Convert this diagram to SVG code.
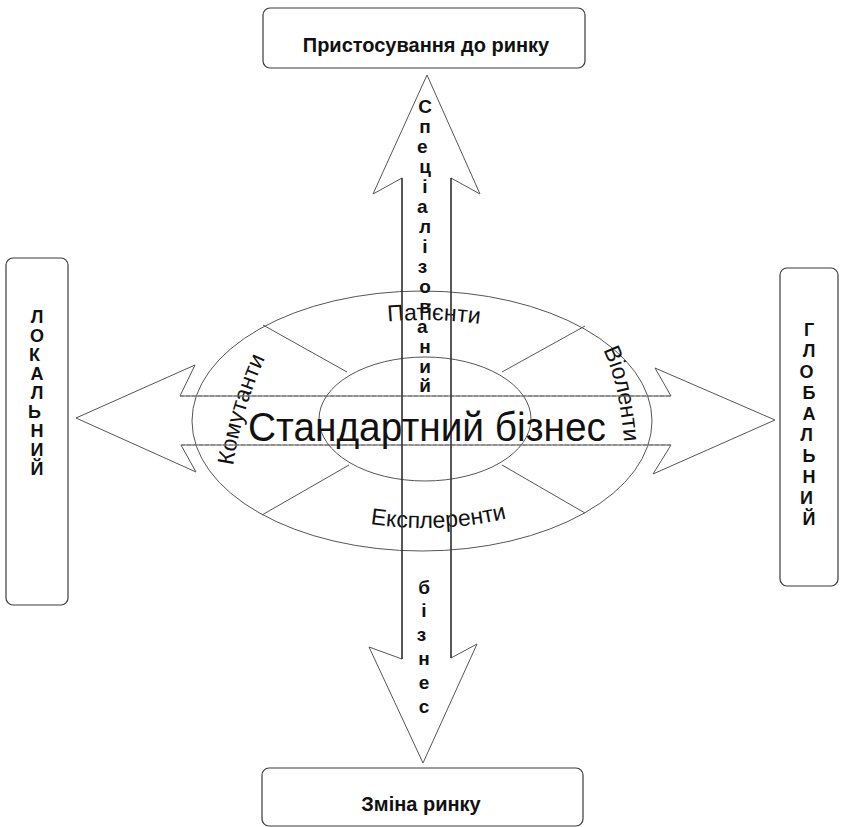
<svg xmlns="http://www.w3.org/2000/svg" width="845" height="827" viewBox="0 0 845 827">
  <style>
    .box{fill:none;stroke:#3a3a3a;stroke-width:1.2}
    .ring{fill:none;stroke:#555;stroke-width:1}
    .spoke{fill:none;stroke:#555;stroke-width:1}
    .arrow{fill:none;stroke:#555;stroke-width:1}
    .shaft-v{stroke:#222;stroke-width:1.2}
    .shaft-h{stroke:#777;stroke-width:1;stroke-dasharray:4 2}
    .lbl{font-family:"Liberation Sans",Arial,sans-serif;font-weight:bold;fill:#111;text-anchor:middle}
    .arc{font-family:"Liberation Sans",Arial,sans-serif;font-size:23px;fill:#111}
  </style>
  <defs>
    <path id="arcTop" d="M 224,420 A 200,100 0 0 1 624,420"/>
    <path id="arcBottom" d="M 224,420 A 200,108 0 0 0 624,420"/>
    <path id="arcRight" d="M 603,350 Q 624,392 626,478"/>
    <path id="arcLeft" d="M 230,490 Q 238,408 276,336"/>
  </defs>
  <rect width="845" height="827" fill="#fff"/>

  <!-- boxes at the ends of the axes -->
  <g id="market-adaptation">
    <rect class="box" x="263" y="8" width="322" height="60" rx="7"/>
    <text class="lbl" x="426" y="52" font-size="20">Пристосування до ринку</text>
  </g>
  <g id="market-change">
    <rect class="box" x="262" y="768" width="321" height="58" rx="7"/>
    <text class="lbl" x="421" y="811" font-size="20">Зміна ринку</text>
  </g>
  <g id="local">
    <rect class="box" x="6" y="258" width="62" height="347" rx="7"/>
    <text class="lbl" font-size="18">
      <tspan x="37" y="323">Л</tspan><tspan x="37" y="342">О</tspan><tspan x="37" y="361">К</tspan>
      <tspan x="37" y="380">А</tspan><tspan x="37" y="399">Л</tspan><tspan x="37" y="418">Ь</tspan>
      <tspan x="37" y="437">Н</tspan><tspan x="37" y="456">И</tspan><tspan x="37" y="475">Й</tspan>
    </text>
  </g>
  <g id="global">
    <rect class="box" x="780" y="268" width="58" height="318" rx="7"/>
    <text class="lbl" font-size="18">
      <tspan x="809" y="336">Г</tspan><tspan x="809" y="357">Л</tspan><tspan x="809" y="378">О</tspan>
      <tspan x="809" y="399">Б</tspan><tspan x="809" y="420">А</tspan><tspan x="809" y="441">Л</tspan>
      <tspan x="809" y="462">Ь</tspan><tspan x="809" y="483">Н</tspan><tspan x="809" y="504">И</tspan>
      <tspan x="809" y="525">Й</tspan>
    </text>
  </g>

  <!-- central ellipse with four strategy sectors -->
  <g id="business-types">
    <ellipse class="ring" cx="422" cy="421" rx="230" ry="130"/>
    <ellipse class="ring" cx="425" cy="419" rx="106" ry="62"/>
    <line class="spoke" x1="263" y1="325" x2="347" y2="372"/>
    <line class="spoke" x1="262" y1="515" x2="349" y2="465"/>
    <line class="spoke" x1="502" y1="372" x2="585" y2="326"/>
    <line class="spoke" x1="502" y1="465" x2="585" y2="513"/>
    <text class="arc"><textPath href="#arcTop" startOffset="52%" text-anchor="middle">Патієнти</textPath></text>
    <text class="arc"><textPath href="#arcBottom" startOffset="53%" text-anchor="middle">Експлеренти</textPath></text>
    <text class="arc"><textPath href="#arcRight" startOffset="0">Віоленти</textPath></text>
    <text class="arc"><textPath href="#arcLeft" startOffset="50%" text-anchor="middle">Комутанти</textPath></text>
  </g>

  <!-- crossing double arrows -->
  <g id="connectors">
    <polygon class="arrow" points="76,418 195,365 180,396 671,396 655,368 775,420 653,474 671,445 181,445 196,472"/>
    <polygon class="arrow" points="427,75 480,194 451,178 451,658 477,644 423,763 369,647 402,659 402,178 373,194"/>
    <line class="shaft-h" x1="180" y1="396" x2="671" y2="396"/>
    <line class="shaft-h" x1="181" y1="445" x2="671" y2="445"/>
    <line class="shaft-v" x1="402" y1="178" x2="402" y2="659"/>
    <line class="shaft-v" x1="451" y1="178" x2="451" y2="658"/>
  </g>

  <g id="core">
    <text x="427" y="441" font-family="'Liberation Sans',Arial,sans-serif" font-size="40" fill="#111" text-anchor="middle" textLength="358" lengthAdjust="spacingAndGlyphs">Стандартний бізнес</text>
  </g>

  <g id="axis-labels">
    <text class="lbl" font-size="19">
      <tspan x="425" y="113">С</tspan><tspan x="425" y="133">п</tspan><tspan x="425" y="153">е</tspan>
      <tspan x="425" y="173">ц</tspan><tspan x="425" y="193">і</tspan><tspan x="425" y="213">а</tspan>
      <tspan x="425" y="233">л</tspan><tspan x="425" y="253">і</tspan><tspan x="425" y="273">з</tspan>
      <tspan x="425" y="293">о</tspan><tspan x="425" y="313">в</tspan><tspan x="425" y="333">а</tspan>
      <tspan x="425" y="353">н</tspan><tspan x="425" y="373">и</tspan><tspan x="425" y="392">й</tspan>
    </text>
    <text class="lbl" font-size="19">
      <tspan x="424" y="594">б</tspan><tspan x="424" y="617">і</tspan><tspan x="424" y="641">з</tspan>
      <tspan x="424" y="665">н</tspan><tspan x="424" y="689">е</tspan><tspan x="424" y="713">с</tspan>
    </text>
  </g>
</svg>
